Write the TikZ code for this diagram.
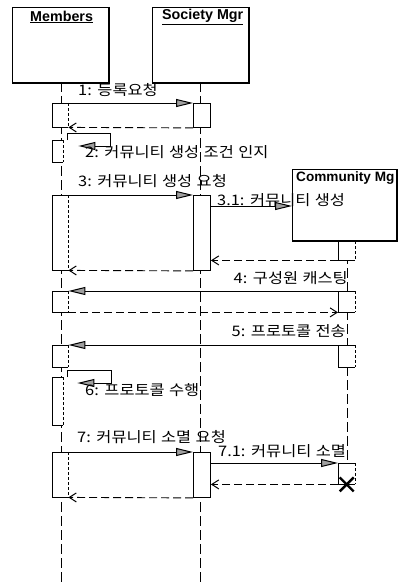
\documentclass[tikz,border=0pt]{standalone}
\usepackage{fontspec}
\newfontfamily\kr[WordSpace=1.2,FakeStretch=1.13]{Noto Sans CJK KR}
\newfontfamily\tit{Liberation Sans}
\usetikzlibrary{arrows.meta}
\tikzset{
  obj/.style={draw, line width=1.1pt, inner sep=0, anchor=north west, fill=white},
  ttl/.style={font=\tit\bfseries\fontsize{14.3}{16}\selectfont, inner sep=0, anchor=west},
  life/.style={line width=0.9pt, dash pattern=on 10pt off 4pt},
  act/.style={fill=white, inner sep=0, anchor=north west},
  actl/.style={line width=0.9pt},
  actr/.style={line width=0.5pt, dash pattern=on 3pt off 2pt},
  sact/.style={draw, line width=0.9pt, fill=white, inner sep=0, anchor=north west, minimum width=17pt},
  call/.style={line width=0.9pt, -{Triangle[length=17pt,width=8pt,fill=gray!75,line width=1pt]}},
  ret/.style={line width=0.9pt, dash pattern=on 8pt off 4pt, -{Straight Barb[length=7pt,width=9pt,line width=1pt]}},
  lab/.style={font=\kr\fontsize{14.5}{16}\selectfont, inner sep=0, anchor=west},
  labr/.style={lab, anchor=east}
}
\newcommand\mactbox[4]{%
  \node[act, minimum width=#3, minimum height=#4] (#1) at (#2) {};
  \draw[actl] (#1.north east) -- (#1.north west) -- (#1.south west) -- (#1.south east);
  \draw[actr] (#1.north east) -- (#1.south east);}
\begin{document}
\begin{tikzpicture}[x=1pt,y=-1pt]
\useasboundingbox (0,0) rectangle (400,583);
% objects
\node[obj, minimum width=96pt, minimum height=75pt] (mem) at (12,7) {};
\draw[line width=2.2pt] (mem.north east) -- (mem.south east) -- (mem.south west);
\node[ttl] (memt) at (30,17) {\underline{Members}};
\node[obj, minimum width=96pt, minimum height=75pt] (soc) at (152,7) {};
\draw[line width=2.2pt] (soc.north east) -- (soc.south east) -- (soc.south west);
\node[ttl] (soct) at (162,17) {\underline{Society Mgr}};
% lifelines
\coordinate (bot) at (0,583);
\coordinate (mlt) at (61,82);
\coordinate (slt) at (200,82);
\draw[life] (mlt) -- (mlt |- bot);
\draw[life] (slt) -- (slt |- bot);
\coordinate (clt) at (347,240);
\coordinate (clb) at (347,484);
\draw[life] (clt) -- (clb);
% community box
\node[obj, minimum width=104pt, minimum height=71pt] (cm) at (292,169) {};
\draw[line width=2.2pt] (cm.north east) -- (cm.south east) -- (cm.south west);
\node[ttl, font=\tit\bfseries\fontsize{13.6}{16}\selectfont] (cmt) at (296,178) {Community Mg};
% message 1
\mactbox{A1}{52,103}{16pt}{24pt}
\node[sact, minimum height=24pt] (S1) at (193,103) {};
\draw[call] (A1.north west) -- (S1.north west);
\draw[ret] (S1.south west) -- (A1.south east);
\node[lab] (l1) at (78,90) {1: 등록요청};
% message 2
\mactbox{A2}{52,140}{11pt}{22pt}
\draw[call] ([xshift=4pt]A2.north east) -- ++(0,-7) -- ++(43,0) -- ++(0,13) -- ++(-32,0);
\node[lab] (l2) at (85,152) {2: 커뮤니티 생성 조건 인지};
% message 3
\mactbox{A3}{52,195}{16pt}{75pt}
\node[sact, minimum height=75pt] (S3) at (193,195) {};
\draw[call] (A3.north west) -- (S3.north west);
\node[lab] (l3) at (78,181) {3: 커뮤니티 생성 요청};
\coordinate (m31) at (0,206);
\draw[call] (S3.east |- m31) -- (cm.west |- m31);
\node[lab] (l31) at (217,200) {3.1: 커뮤니티 생성};
\mactbox{C3}{338,241}{17pt}{19pt}
\draw[ret] (C3.south west) -- (S3.east |- C3.south west);
\draw[ret] (S3.south west) -- (A3.south east);
% message 4
\node[labr] (l4) at (348,278) {4: 구성원 캐스팅};
\mactbox{C4}{338,291}{17pt}{21pt}
\mactbox{A4}{52,291}{16pt}{21pt}
\draw[call] (C4.north west) -- (A4.north east);
\draw[ret] (A4.south east) -- (C4.south west);
% message 5
\node[labr] (l5) at (346,331) {5: 프로토콜 전송};
\mactbox{C5}{338,345}{17pt}{22pt}
\mactbox{A5}{52,345}{16pt}{22pt}
\draw[call] (C5.north west) -- (A5.north east);
% message 6
\mactbox{A6}{52,377}{11pt}{48pt}
\draw[call] ([xshift=4pt]A6.north east) -- ++(0,-7) -- ++(44,0) -- ++(0,13) -- ++(-34,0);
\node[lab] (l6) at (85,390) {6: 프로토콜 수행};
% message 7
\node[lab] (l7) at (77,437) {7: 커뮤니티 소멸 요청};
\mactbox{A7}{52,452}{16pt}{45pt}
\node[sact, minimum height=45pt] (S7) at (193,452) {};
\draw[call] (A7.north west) -- (S7.north west);
\node[lab] (l71) at (218,451) {7.1: 커뮤니티 소멸};
\mactbox{C7}{338,463}{17pt}{21pt}
\draw[call] (S7.east |- C7.north) -- (C7.north west);
\draw[ret] (C7.south west) -- (S7.east |- C7.south west);
\draw[ret] (S7.south west) -- (A7.south east);
\draw[line width=2.4pt] ([shift={(-7,-7)}]C7.south) -- ([shift={(7,7)}]C7.south);
\draw[line width=2.4pt] ([shift={(-7,7)}]C7.south) -- ([shift={(7,-7)}]C7.south);
\end{tikzpicture}
\end{document}
